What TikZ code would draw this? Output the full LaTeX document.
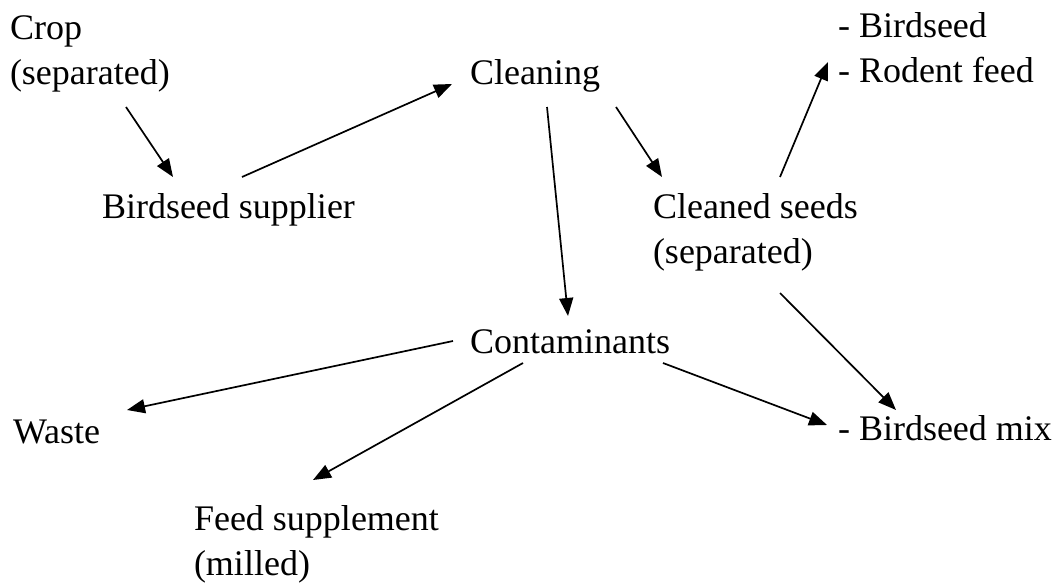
\documentclass[tikz,border=0pt]{standalone}
\usepackage{fontspec}
\setmainfont{Liberation Serif}
\usetikzlibrary{arrows.meta,calc}
\begin{document}
\begin{tikzpicture}[x=1pt,y=-1pt,
  lbl/.style={anchor=base west,inner sep=0pt,outer sep=0pt,align=left,font=\fontsize{36}{45}\selectfont},
  arr/.style={line width=1.7pt,-{Triangle[length=18pt,width=14pt]}}]
\useasboundingbox (0,0) rectangle (1056,583);
\node[lbl] (crop) at (10,85) {Crop\\(separated)};
\node[lbl] (supplier) at (102,218) {Birdseed supplier};
\node[lbl] (cleaning) at (470,85) {Cleaning};
\node[lbl] (uses) at (838,83) {- Birdseed\\- Rodent feed};
\node[lbl] (cleaned) at (653,263) {Cleaned seeds\\(separated)};
\node[lbl] (cont) at (470,353) {Contaminants};
\node[lbl] (waste) at (13,443) {Waste};
\node[lbl] (mix) at (838,440) {- Birdseed mix};
\node[lbl] (feed) at (194,575) {Feed supplement\\(milled)};
\draw[arr] ($(crop.base west)+(116,22)$) -- ($(supplier.base west)+(71,-41)$);
\draw[arr] ($(supplier.base west)+(140,-41)$) -- ($(cleaning.base west)+(-18,-1)$);
\draw[arr] ($(cleaning.base west)+(77,22)$) -- ($(cont.base west)+(98,-37)$);
\draw[arr] ($(cleaning.base west)+(146,22)$) -- ($(cleaned.base west)+(9,-86)$);
\draw[arr] ($(cleaned.base west)+(127,-86)$) -- ($(uses.base west)+(-10,-21)$);
\draw[arr] ($(cleaned.base west)+(127,30)$) -- ($(mix.base west)+(58,-30)$);
\draw[arr] ($(cont.base west)+(-17,-12)$) -- ($(waste.base west)+(114,-33)$);
\draw[arr] ($(cont.base west)+(53,10)$) -- ($(feed.base west)+(119,-95)$);
\draw[arr] ($(cont.base west)+(193,10)$) -- ($(mix.base west)+(-11,-15)$);
\end{tikzpicture}
\end{document}
